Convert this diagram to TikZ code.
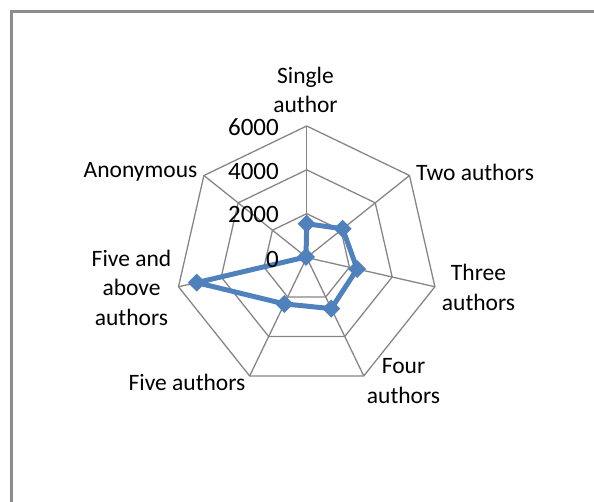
\documentclass[tikz,border=0pt]{standalone}
\usepackage{fontspec}
\usetikzlibrary{calc}
\setmainfont{Carlito}
\definecolor{gridc}{HTML}{868686}
\definecolor{framec}{HTML}{8C8C8C}
\definecolor{serc}{HTML}{4F81BD}
\begin{document}
\begin{tikzpicture}[x=1pt,y=1pt,
  gridline/.style={draw=gridc,line width=1.3pt,line join=miter},
  lab/.style={inner sep=0pt,align=center,font=\fontsize{23.5}{29.5}\selectfont},
  tick/.style={inner sep=0pt,anchor=east,font=\fontsize{25}{30}\selectfont},
  series/.style={draw=serc,line width=5pt,line join=round},
  mk/.style={fill=serc}]
\useasboundingbox (0,0) rectangle (594,-502);
% frame
\draw[framec,line width=2.6pt] (11.5,-510) -- (11.5,-11.5) -- (600,-11.5);
\begin{scope}[shift={(306.7,-257.5)}]
  \coordinate (c) at (0,0);
  \foreach \k in {0,...,6}{
    \coordinate (v\k) at ({90-\k*360/7}:131.5);
    \coordinate (m\k) at ({90-\k*360/7}:87.67);
    \coordinate (i\k) at ({90-\k*360/7}:43.83);
  }
  \draw[gridline] (v0)--(v1)--(v2)--(v3)--(v4)--(v5)--(v6)--cycle;
  \draw[gridline] (m0)--(m1)--(m2)--(m3)--(m4)--(m5)--(m6)--cycle;
  \draw[gridline] (i0)--(i1)--(i2)--(i3)--(i4)--(i5)--(i6)--cycle;
  \foreach \k in {0,...,6}{\draw[gridline] (c)--(v\k);}
  % data
  \coordinate (d0) at ({90-0*360/7}:{1540/6000*131.5});
  \coordinate (d1) at ({90-1*360/7}:{2100/6000*131.5});
  \coordinate (d2) at ({90-2*360/7}:{2360/6000*131.5});
  \coordinate (d3) at ({90-3*360/7}:{2590/6000*131.5});
  \coordinate (d4) at ({90-4*360/7}:{2350/6000*131.5});
  \coordinate (d5) at ({90-5*360/7}:{5150/6000*131.5});
  \coordinate (d6) at ({90-6*360/7}:{40/6000*131.5});
  \draw[series] (d0)--(d1)--(d2)--(d3)--(d4)--(d5)--(d6)--cycle;
  \foreach \k in {0,...,6}{
    \fill[mk] ($(d\k)+(0,9)$) -- ($(d\k)+(9,0)$) -- ($(d\k)+(0,-9)$) -- ($(d\k)+(-9,0)$) -- cycle;
  }
\end{scope}
% tick labels
\node[tick] (t6) at (279,-127) {6000};
\node[tick] (t4) at (279,-171) {4000};
\node[tick] (t2) at (279,-214) {2000};
\node[tick] (t0) at (279,-259) {0};
% axis labels
\node[lab] (l0) at (305.5,-90) {Single\\author};
\node[lab] (l1) at (475,-172) {Two authors};
\node[lab] (l2) at (478.5,-287.5) {Three\\authors};
\node[lab] (l3) at (403.5,-381) {Four\\authors};
\node[lab] (l4) at (187,-382) {Five authors};
\node[lab] (l5) at (131.5,-287.5) {Five and\\above\\authors};
\node[lab] (l6) at (140.5,-172) {Anonymous};
\end{tikzpicture}
\end{document}
